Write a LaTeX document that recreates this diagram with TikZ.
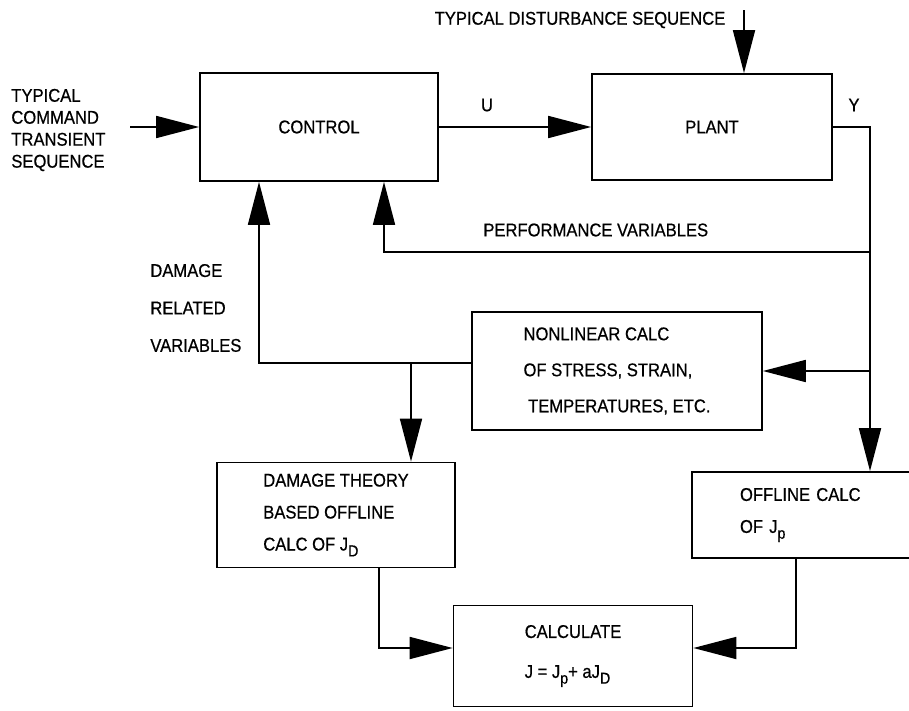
\documentclass[tikz,border=0pt]{standalone}
\usepackage{fontspec}
\setmainfont{Liberation Sans}[FakeStretch=0.9, FakeBold=0.6]
\usetikzlibrary{arrows.meta}
\newcommand{\sbs}[1]{\raisebox{-0.6ex}{\small #1}}
\tikzset{
  sigarr/.style={-{Triangle[length=8.6mm, width=4.4mm]}, line width=1pt},
  blk/.style={draw, line width=1pt, align=left, inner sep=0pt},
  lbl/.style={align=left, inner sep=0pt},
}

\begin{document}
\begin{tikzpicture}[x=0.02cm, y=-0.02cm, font=\fontsize{10.5}{12}\selectfont]
    \useasboundingbox (0,0) rectangle (909,710);
    \clip (0,0) rectangle (909,710);
    % blocks
    \node[blk, minimum width=4.76cm, minimum height=2.16cm] (control) at (319,127) {CONTROL};
    \node[blk, minimum width=4.80cm, minimum height=2.12cm] (plant) at (712,127) {PLANT};
    \node[blk, minimum width=5.80cm, minimum height=2.36cm, font=\fontsize{10.5}{20.5}\selectfont]
      (nonlin) at (617,371) {NONLINEAR CALC\\OF STRESS, STRAIN,\\\ TEMPERATURES, ETC.};
    \node[blk, minimum width=4.76cm, minimum height=2.10cm, font=\fontsize{10.5}{18.2}\selectfont]
      (dmg) at (336,515) {DAMAGE THEORY\\BASED OFFLINE\\CALC OF J\sbs{D}};
    \node[blk, text width=2.64cm, inner xsep=0.96cm, minimum height=1.72cm, font=\fontsize{10.5}{18.2}\selectfont]
      (offl) at (806,515) {OFFLINE CALC\\OF J\sbs{p}};
    \node[blk, minimum width=4.78cm, minimum height=2.02cm, font=\fontsize{10.5}{22.7}\selectfont]
      (calc) at (573,656) {CALCULATE\\J = J\sbs{p}+ aJ\sbs{D}};
    % labels
    \node[lbl, anchor=west, font=\fontsize{10.5}{12.5}\selectfont] (cmd) at (11,130)
      {TYPICAL\\COMMAND\\TRANSIENT\\SEQUENCE};
    \node[lbl] (distlbl) at (580,20) {TYPICAL DISTURBANCE SEQUENCE};
    \node[lbl] (ulab) at (487,105) {U};
    \node[lbl] (ylab) at (854,105) {Y};
    \node[lbl, anchor=west] (perflbl) at (483,230) {PERFORMANCE VARIABLES};
    \node[lbl, anchor=west, font=\fontsize{10.5}{21.3}\selectfont] (dmglbl) at (150,308)
      {DAMAGE\\RELATED\\VARIABLES};
    % branch points
    \coordinate (cmdin) at (130,127);
    \coordinate (dist) at (744,10);
    \coordinate (ytap) at (870,127);
    \coordinate (perf) at (870,252);
    \coordinate (perfin) at (384,252);
    \coordinate (dmgbus) at (259,363);
    \coordinate (dmgtap) at (411,363);
    \coordinate (dmgout) at (379,648);
    \coordinate (offout) at (796,648);
    % connectors
    \draw[sigarr] (cmdin) -- (control.west);
    \draw[sigarr] (control.east) -- (plant.west);
    \draw[sigarr] (dist) -- (dist |- plant.north);
    \draw[sigarr] (plant.east) -- (ytap) -- (ytap |- offl.north);
    \draw[sigarr] (perf) -- (perfin) -- (perfin |- control.south);
    \draw[sigarr] (ytap |- nonlin.east) -- (nonlin.east);
    \draw[sigarr] (nonlin.west |- dmgbus) -- (dmgbus) -- (dmgbus |- control.south);
    \draw[sigarr] (dmgtap) -- (dmgtap |- dmg.north);
    \draw[sigarr] (dmgout |- dmg.south) -- (dmgout) -- (dmgout -| calc.west);
    \draw[sigarr] (offout |- offl.south) -- (offout) -- (offout -| calc.east);
\end{tikzpicture}
\end{document}
